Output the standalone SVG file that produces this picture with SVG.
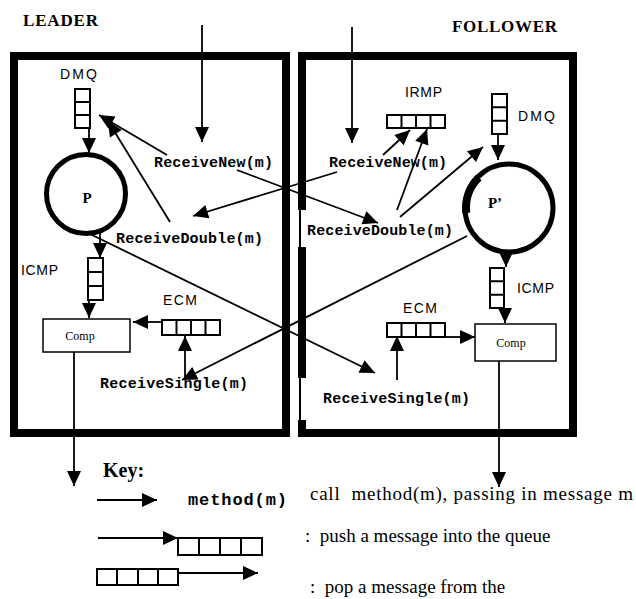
<svg xmlns="http://www.w3.org/2000/svg" width="636" height="599" viewBox="0 0 636 599">
  <style>
    .title { font-family: "Liberation Serif", serif; font-weight: bold; font-size: 17px; }
    .lbl { font-family: "Liberation Sans", Arial, sans-serif; font-size: 14px; }
    .meth { font-family: "Liberation Mono", "Courier New", monospace; font-weight: bold; font-size: 15px; }
    .proc { font-family: "Liberation Serif", serif; font-weight: bold; font-size: 15px; text-anchor: middle; }
    .comp { font-family: "Liberation Serif", serif; font-size: 12px; text-anchor: middle; }
    .keyhead { font-family: "Liberation Serif", serif; font-weight: bold; font-size: 20px; }
    .keytxt { font-family: "Liberation Serif", serif; font-size: 19px; }
    .keymeth { font-family: "Liberation Mono", "Courier New", monospace; font-weight: bold; font-size: 17px; }
    .box { fill: none; stroke: #000; stroke-width: 8; }
    .q { fill: #fff; stroke: #000; stroke-width: 2; }
    .qd { fill: none; stroke: #000; stroke-width: 2; }
    .ring { fill: #fff; stroke: #000; stroke-width: 5; }
    .cbox { fill: #fff; stroke: #000; stroke-width: 1.5; }
    .c { fill: none; stroke: #000; stroke-width: 1.8; marker-end: url(#ah); }
  </style>
  <defs>
    <marker id="ah" markerUnits="userSpaceOnUse" markerWidth="16" markerHeight="14" refX="15" refY="7" orient="auto" overflow="visible">
      <path d="M0,0 L15,7 L0,14 z" fill="#000"/>
    </marker>
  </defs>

  <rect width="636" height="599" fill="#fff"/>

  <!-- headings -->
  <text class="title" x="23" y="26" textLength="75">LEADER</text>
  <text class="title" x="452" y="32" textLength="105">FOLLOWER</text>

  <!-- leader enclosure -->
  <g id="leader-box">
    <rect class="box" x="14" y="56" width="272" height="377"/>
  </g>

  <!-- follower enclosure: left side is broken into thick and thin runs -->
  <g id="follower-box">
    <path class="box" d="M298 56 H573 V433 H298" stroke-linejoin="miter"/>
    <path class="box" d="M302 52 V210 M302 247 V378 M302 420 V437"/>
    <path fill="none" stroke="#000" stroke-width="2" d="M300 210 V247 M300 378 V420"/>
  </g>

  <!-- connectors -->
  <g id="connectors">
    <!-- incoming calls from outside -->
    <line class="c" x1="202" y1="25" x2="202" y2="142"/>
    <line class="c" x1="352" y1="27" x2="352" y2="143"/>
    <!-- leader side -->
    <line class="c" x1="167" y1="155" x2="99" y2="115"/>
    <line class="c" x1="170" y1="222" x2="108" y2="121"/>
    <line class="c" x1="89" y1="128" x2="89" y2="153"/>
    <line class="c" x1="100" y1="232" x2="100" y2="258"/>
    <line class="c" x1="89" y1="300" x2="89" y2="318"/>
    <line class="c" x1="162" y1="322" x2="133" y2="322"/>
    <line class="c" x1="185" y1="377" x2="185" y2="336"/>
    <line class="c" x1="74" y1="352" x2="74" y2="486"/>
    <!-- cross calls between leader and follower -->
    <line class="c" x1="237" y1="170" x2="378" y2="223"/>
    <line class="c" x1="337" y1="172" x2="193" y2="216"/>
    <line class="c" x1="90" y1="234" x2="375" y2="373"/>
    <line class="c" x1="467" y1="236" x2="182" y2="380"/>
    <!-- follower side -->
    <line class="c" x1="383" y1="155" x2="410" y2="130"/>
    <line class="c" x1="397" y1="210" x2="427" y2="129"/>
    <line class="c" x1="400" y1="217" x2="483" y2="147"/>
    <line class="c" x1="498" y1="134" x2="498" y2="160"/>
    <line class="c" x1="506" y1="251" x2="506" y2="267"/>
    <line class="c" x1="505" y1="308" x2="505" y2="323"/>
    <line class="c" x1="445" y1="337" x2="475" y2="337"/>
    <line class="c" x1="397" y1="380" x2="397" y2="336"/>
    <line class="c" x1="499" y1="361" x2="499" y2="487"/>
  </g>

  <!-- leader nodes -->
  <g id="leader-dmq">
    <text class="lbl" x="60" y="79" textLength="37">DMQ</text>
    <rect class="q" x="75" y="89" width="15" height="39"/>
    <path class="qd" d="M75 102 H90 M75 115 H90"/>
  </g>
  <g id="leader-p">
    <circle class="ring" cx="86" cy="194" r="39.5"/>
    <text class="proc" x="87" y="203">P</text>
  </g>
  <g id="leader-icmp">
    <text class="lbl" x="21" y="275" textLength="37">ICMP</text>
    <rect class="q" x="88" y="258" width="15" height="42"/>
    <path class="qd" d="M88 272 H103 M88 286 H103"/>
  </g>
  <g id="leader-ecm">
    <text class="lbl" x="163" y="305" textLength="34">ECM</text>
    <rect class="q" x="162" y="320" width="58" height="15"/>
    <path class="qd" d="M176.5 320 V335 M191 320 V335 M205.5 320 V335"/>
  </g>
  <g id="leader-comp">
    <rect class="cbox" x="43" y="319" width="87" height="33"/>
    <text class="comp" x="80" y="340">Comp</text>
  </g>
  <g id="leader-receive-new">
    <text class="meth" x="154" y="167" textLength="119">ReceiveNew(m)</text>
  </g>
  <g id="leader-receive-double">
    <text class="meth" x="116" y="243" textLength="147">ReceiveDouble(m)</text>
  </g>
  <g id="leader-receive-single">
    <text class="meth" x="100" y="388" textLength="148">ReceiveSingle(m)</text>
  </g>

  <!-- follower nodes -->
  <g id="follower-irmp">
    <text class="lbl" x="405" y="97" textLength="37">IRMP</text>
    <rect class="q" x="387" y="115" width="58" height="13"/>
    <path class="qd" d="M401.5 115 V128 M416 115 V128 M430.5 115 V128"/>
  </g>
  <g id="follower-dmq">
    <rect class="q" x="492" y="94" width="15" height="40"/>
    <path class="qd" d="M492 107.3 H507 M492 120.7 H507"/>
    <text class="lbl" x="518" y="121" textLength="37">DMQ</text>
  </g>
  <g id="follower-p">
    <circle class="ring" cx="509" cy="208" r="44"/>
    <path fill="none" stroke="#000" stroke-width="8" d="M466.3 213 A43 43 0 0 1 478.8 177.5"/>
    <text class="proc" x="495" y="208">P’</text>
  </g>
  <g id="follower-icmp">
    <rect class="q" x="490" y="268" width="14" height="40"/>
    <path class="qd" d="M490 281.3 H504 M490 294.7 H504"/>
    <text class="lbl" x="517" y="293" textLength="37">ICMP</text>
  </g>
  <g id="follower-ecm">
    <text class="lbl" x="403" y="313" textLength="34">ECM</text>
    <rect class="q" x="387" y="323" width="58" height="14"/>
    <path class="qd" d="M401.5 323 V337 M416 323 V337 M430.5 323 V337"/>
  </g>
  <g id="follower-comp">
    <rect class="cbox" x="475" y="324" width="81" height="37"/>
    <text class="comp" x="511" y="347">Comp</text>
  </g>
  <g id="follower-receive-new">
    <text class="meth" x="329" y="167" textLength="118">ReceiveNew(m)</text>
  </g>
  <g id="follower-receive-double">
    <text class="meth" x="307" y="235" textLength="146">ReceiveDouble(m)</text>
  </g>
  <g id="follower-receive-single">
    <text class="meth" x="323" y="403" textLength="147">ReceiveSingle(m)</text>
  </g>

  <!-- key -->
  <g id="key">
    <text class="keyhead" x="103" y="477">Key:</text>
    <line class="c" x1="97" y1="500" x2="157" y2="500"/>
    <text class="keymeth" x="188" y="505" textLength="99">method(m)</text>
    <text class="keytxt" x="310" y="500" textLength="323" style="white-space:pre">call  method(m), passing in message m</text>

    <line class="c" x1="98" y1="538" x2="178" y2="538"/>
    <rect class="q" x="178" y="538" width="84" height="17"/>
    <path class="qd" d="M199 538 V555 M220 538 V555 M241 538 V555"/>
    <text class="keytxt" x="305" y="542" style="white-space:pre">:  push a message into the queue</text>

    <rect class="q" x="97" y="569" width="81" height="16"/>
    <path class="qd" d="M117 569 V585 M138 569 V585 M158 569 V585"/>
    <line class="c" x1="178" y1="573" x2="258" y2="573"/>
    <text class="keytxt" x="310" y="593" style="white-space:pre">:  pop a message from the</text>
  </g>
</svg>
